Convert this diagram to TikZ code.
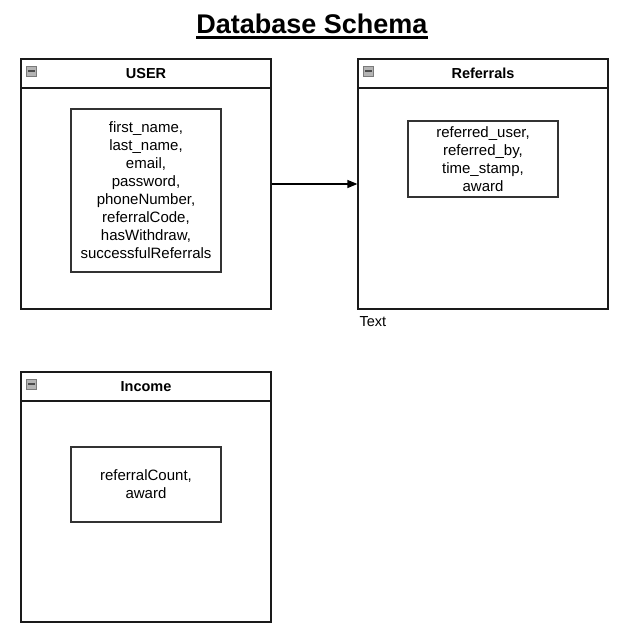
\documentclass[tikz,border=0pt]{standalone}
\usepackage{fontspec}
\setmainfont{Liberation Sans}
\usetikzlibrary{arrows.meta, positioning}
\definecolor{framecol}{HTML}{1A1A1A}
\definecolor{fieldcol}{HTML}{333333}
\definecolor{iconfill}{HTML}{B4B4B4}
\definecolor{iconedge}{HTML}{7A7A7A}

\begin{document}
\begin{tikzpicture}[x=1pt, y=-1pt, >={Triangle[length=10pt, width=8pt]}]
    \tikzstyle{table} = [rectangle, draw=framecol, line width=1.2pt, minimum width=250pt, minimum height=250pt, inner sep=0pt]
    \tikzstyle{header} = [rectangle, draw=framecol, line width=1.2pt, minimum width=250pt, minimum height=29pt, inner sep=0pt, font=\fontsize{14.5}{17}\selectfont\bfseries]
    \tikzstyle{field} = [rectangle, draw=fieldcol, line width=1.2pt, minimum width=150pt, inner sep=0pt, align=center, font=\fontsize{15}{18}\selectfont]
    \tikzstyle{icon} = [rectangle, draw=iconedge, fill=iconfill, minimum size=10pt, inner sep=0pt,
        path picture={\draw[line width=1.8pt, black!70] ([xshift=1.5pt]path picture bounding box.west) -- ([xshift=-1.5pt]path picture bounding box.east);}]

    \useasboundingbox (0,0) rectangle (629,642);

    % title
    \node [font=\fontsize{27}{31}\selectfont\bfseries, inner sep=0pt] (title) at (312,24) {Database Schema};
    \draw [line width=2.5pt] ([yshift=-4pt]title.base west) -- ([yshift=-4pt]title.base east);

    % USER table
    \node [table] (user) at (146,184) {};
    \node [header, anchor=north] (userhead) at (user.north) {USER};
    \node [icon, right=6pt of userhead.west, yshift=2.5pt] (usericon) {};
    \node [field, minimum height=163pt] (userfields) at (146,190.5) {first\_name,\\last\_name,\\email,\\password,\\phoneNumber,\\referralCode,\\hasWithdraw,\\successfulReferrals};

    % Referrals table
    \node [table] (ref) at (483,184) {};
    \node [header, anchor=north] (refhead) at (ref.north) {Referrals};
    \node [icon, right=6pt of refhead.west, yshift=2.5pt] (reficon) {};
    \node [field, minimum height=76pt] (reffields) at (483,159) {referred\_user,\\referred\_by,\\time\_stamp,\\award};
    \node [below right=7pt and 2pt of ref.south west, inner sep=0pt, font=\fontsize{14.5}{17}\selectfont] (reflabel) {Text};

    % Income table
    \node [table] (inc) at (146,497) {};
    \node [header, anchor=north] (inchead) at (inc.north) {Income};
    \node [icon, right=6pt of inchead.west, yshift=2.5pt] (incicon) {};
    \node [field, minimum height=75pt] (incfields) at (146,484.5) {referralCount,\\award};

    \draw [->, line width=1.2pt] (user) -- (ref);
\end{tikzpicture}
\end{document}
